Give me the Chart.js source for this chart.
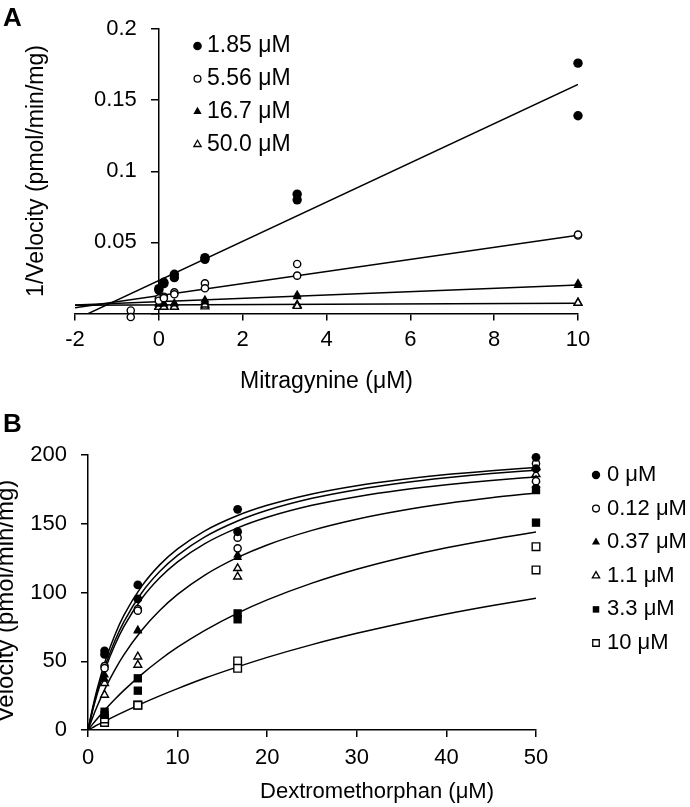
<!DOCTYPE html>
<html>
<head>
<meta charset="utf-8">
<script src="https://cdn.jsdelivr.net/npm/chart.js@4/dist/chart.umd.min.js"></script>
<style>
body { margin: 0; background: #fff; }
#wrap { position: relative; width: 690px; height: 807px; }
canvas { position: absolute; left: 0; }
#chartA { top: 0; }
#chartB { top: 395px; }
</style>
</head>
<body>
<div id="wrap">
<canvas id="chartA" width="690" height="395"></canvas>
<canvas id="chartB" width="690" height="412"></canvas>
</div>
<script>
// ---- panel A : 1/velocity vs mitragynine ----
const mitraConc = [0, 0, 0.12, 0.12, 0.37, 0.37, 1.1, 1.1, 3.3, 3.3, 10, 10];
const invV_185 = [0.0175, 0.0165, 0.021, 0.022, 0.0276, 0.0252, 0.0393, 0.0381, 0.0839, 0.0799, 0.176, 0.139];
const invV_556 = [0.0107, 0.009, 0.0118, 0.0108, 0.0149, 0.0135, 0.0212, 0.0177, 0.0348, 0.0266, 0.0548, 0.0555];
const invV_167 = [0.0065, 0.0072, 0.007, 0.0068, 0.0072, 0.0068, 0.0095, 0.0082, 0.013, 0.0118, 0.0212, 0.0198];
const invV_500 = [0.0048, 0.0045, 0.0048, 0.0046, 0.0048, 0.0046, 0.0048, 0.0062, 0.006, 0.0052, 0.0076, 0.0074];
const strayX = [-0.67, -0.67];
const strayY = [0.0021, -0.0025];
const fitX = [-2, 10];
const fit_185 = [-0.0044, 0.161];
const fit_556 = [0.004, 0.055];
const fit_167 = [0.0059, 0.0201];
const fit_500 = [0.0058, 0.0072];
const labelsA = ['1.85 μM', '5.56 μM', '16.7 μM', '50.0 μM'];

// ---- panel B : velocity vs dextromethorphan ----
const dexConc = [1.85, 1.85, 5.56, 5.56, 16.7, 16.7, 50, 50];
const v_0 = [57.5, 55, 105.5, 95.3, 160.5, 144.2, 198.3, 190];
const v_012 = [46.5, 45, 88, 86.8, 139.9, 132.1, 193.9, 181];
const v_037 = [40, 37, 72.7, 72, 127.3, 125.5, 182, 178];
const v_11 = [25.5, 34, 53.3, 47.3, 117.6, 111.5, 191, 186];
const v_33 = [13.3, 11, 37.6, 28.6, 84.8, 80.5, 174.5, 150.8];
const v_10 = [5.5, 8, 18.2, 18, 50.2, 44.9, 133.3, 116.4];
const curveX = [0, 0.5, 1, 2, 3, 4, 6, 8, 10, 13, 16.7, 20, 25, 30, 35, 40, 45, 50];
const curve_0 = [0, 15.7, 29.3, 51.6, 69.1, 83.3, 104.6, 120.1, 131.7, 144.7, 156.0, 163.4, 171.7, 177.7, 182.2, 185.8, 188.6, 191.0];
const curve_012 = [0, 14.5, 27.1, 48.1, 64.9, 78.7, 99.8, 115.2, 127.0, 140.3, 152.0, 159.8, 168.5, 174.8, 179.6, 183.4, 186.5, 189.0];
const curve_037 = [0, 13.6, 25.6, 45.7, 61.8, 75.1, 95.6, 110.7, 122.3, 135.4, 147.0, 154.7, 163.4, 169.7, 174.6, 178.4, 181.5, 184.0];
const curve_11 = [0, 8.8, 16.9, 31.4, 43.8, 54.7, 72.6, 86.9, 98.6, 112.5, 125.5, 134.6, 145.2, 153.3, 159.6, 164.7, 168.9, 172.4];
const curve_33 = [0, 4.1, 8.0, 15.4, 22.3, 28.8, 40.5, 50.9, 60.2, 72.3, 85.0, 94.6, 106.8, 116.9, 125.3, 132.5, 138.6, 144.0];
const curve_10 = [0, 1.7, 3.5, 6.8, 10.1, 13.2, 19.2, 24.8, 30.1, 37.6, 45.9, 52.8, 62.1, 70.3, 77.7, 84.4, 90.4, 95.9];
const labelsB = ['0 μM', '0.12 μM', '0.37 μM', '1.1 μM', '3.3 μM', '10 μM'];

const FONT = '"Liberation Sans", Arial, sans-serif';
const pts = (xs, ys) => xs.map((x, i) => ({ x: x, y: ys[i] }));

// marker looks (style only)
const stylesA = [
  { shape: 'circle', filled: true, r: 4.7, lr: 4.3 },
  { shape: 'circle', filled: false, r: 3.6, lr: 3.4 },
  { shape: 'triangle', filled: true, r: 5.2, lr: 4.8 },
  { shape: 'triangle', filled: false, r: 4.5, lr: 4.2 }
];
const stylesB = [
  { shape: 'circle', filled: true, r: 4.4, lr: 4.2 },
  { shape: 'circle', filled: false, r: 3.6, lr: 3.4 },
  { shape: 'triangle', filled: true, r: 5.2, lr: 4.7 },
  { shape: 'triangle', filled: false, r: 4.5, lr: 4.2 },
  { shape: 'rect', filled: true, r: 5.9, lr: 4.6 },
  { shape: 'rect', filled: false, r: 5.4, lr: 4.6 }
];

function pointSet(data, st) {
  return {
    type: 'scatter', data: data, order: 1, clip: false,
    pointStyle: st.shape, pointRadius: st.r, pointHoverRadius: st.r,
    pointBackgroundColor: st.filled ? '#000' : '#fff',
    pointBorderColor: '#000', pointBorderWidth: st.filled ? 0 : 1.4
  };
}
function lineSet(data) {
  return {
    type: 'line', data: data, order: 2, showLine: true,
    borderColor: '#000', borderWidth: 1.5, pointRadius: 0,
    cubicInterpolationMode: 'monotone', fill: false
  };
}

function drawMarker(ctx, st, x, y, r) {
  ctx.beginPath();
  if (st.shape === 'circle') {
    ctx.arc(x, y, r, 0, Math.PI * 2);
  } else if (st.shape === 'triangle') {
    ctx.moveTo(x, y - r);
    ctx.lineTo(x + 0.866 * r, y + 0.5 * r);
    ctx.lineTo(x - 0.866 * r, y + 0.5 * r);
  } else {
    const s = r * Math.SQRT1_2;
    ctx.rect(x - s, y - s, 2 * s, 2 * s);
  }
  ctx.closePath();
  ctx.fillStyle = st.filled ? '#000' : '#fff';
  ctx.fill();
  if (!st.filled) {
    ctx.lineWidth = 1.3;
    ctx.strokeStyle = '#000';
    ctx.stroke();
  }
}

// panel letter, rotated y title, legend and a few labels Chart.js can't place
const overlay = {
  id: 'overlay',
  afterDraw(chart, args, o) {
    const ctx = chart.ctx;
    const area = chart.chartArea;
    ctx.save();
    ctx.fillStyle = '#000';
    ctx.font = 'bold 26px ' + FONT;
    ctx.textAlign = 'left';
    ctx.textBaseline = 'alphabetic';
    ctx.fillText(o.letter, o.letterX, o.letterY);

    ctx.save();
    ctx.translate(o.yTitleX, o.yTitleY);
    ctx.rotate(-Math.PI / 2);
    ctx.font = o.yTitleSize + 'px ' + FONT;
    ctx.textAlign = 'center';
    ctx.textBaseline = 'middle';
    ctx.fillText(o.yTitle, 0, 0);
    ctx.restore();

    ctx.font = o.fontSize + 'px ' + FONT;
    ctx.textBaseline = 'middle';
    if (o.xTitle) {
      ctx.textAlign = 'center';
      ctx.fillText(o.xTitle, o.xTitleX, o.xTitleY);
    }
    // y tick labels beside an axis that sits at x = 0
    if (o.yLabelGap) {
      const ys = chart.scales.y;
      const ax = chart.scales.x.getPixelForValue(0) - o.yLabelGap;
      ctx.font = '22px ' + FONT;
      ctx.textAlign = 'right';
      ys.ticks.forEach(t => {
        if (t.value !== 0) ctx.fillText(String(parseFloat(t.value.toFixed(2))), ax, ys.getPixelForValue(t.value));
      });
    }

    ctx.font = o.fontSize + 'px ' + FONT;
    ctx.textAlign = 'left';
    o.labels.forEach((txt, i) => {
      const y = o.legendY + i * o.legendDy;
      drawMarker(ctx, o.styles[i], o.markerX, y, o.styles[i].lr);
      ctx.fillStyle = '#000';
      ctx.fillText(txt, o.textX, y);
    });
    ctx.restore();
  }
};

const tickFont = { family: FONT, size: 22 };
const gridOpts = { drawOnChartArea: false, drawTicks: true, tickLength: 7, color: '#000', lineWidth: 1.5 };
const borderOpts = { color: '#000', width: 1.5 };

// ---------- chart A ----------
new Chart(document.getElementById('chartA'), {
  type: 'scatter',
  data: {
    datasets: [
      pointSet(pts(mitraConc, invV_185), stylesA[0]),
      pointSet(pts(mitraConc, invV_556).concat(pts(strayX, strayY)), stylesA[1]),
      pointSet(pts(mitraConc, invV_167), stylesA[2]),
      pointSet(pts(mitraConc, invV_500), stylesA[3]),
      lineSet(pts(fitX, fit_185)),
      lineSet(pts(fitX, fit_556)),
      lineSet(pts(fitX, fit_167)),
      lineSet(pts(fitX, fit_500))
    ]
  },
  options: {
    responsive: false,
    animation: false,
    layout: { padding: { left: 75, right: 112, top: 29, bottom: 0 } },
    plugins: {
      legend: { display: false },
      tooltip: { enabled: false },
      overlay: {
        letter: 'A', letterX: 3, letterY: 26, fontSize: 23,
        yTitle: '1/Velocity (pmol/min/mg)', yTitleX: 37, yTitleY: 171, yTitleSize: 23,
        yLabelGap: 22,
        labels: labelsA, styles: stylesA,
        markerX: 197.5, textX: 207, legendY: 46, legendDy: 32.8
      }
    },
    scales: {
      x: {
        type: 'linear', position: 'bottom', min: -2, max: 10,
        ticks: { stepSize: 2, padding: 6, color: '#000', font: tickFont },
        grid: gridOpts, border: borderOpts,
        title: { display: true, text: 'Mitragynine (μM)', color: '#000', font: { family: FONT, size: 23 }, padding: { top: 0, bottom: 0 } },
        afterFit: s => { s.height = 81.5; }
      },
      y: {
        type: 'linear', position: { x: 0 }, min: 0, max: 0.2,
        ticks: { stepSize: 0.05, display: false },
        grid: gridOpts, border: borderOpts
      }
    }
  },
  plugins: [overlay]
});

// ---------- chart B ----------
new Chart(document.getElementById('chartB'), {
  type: 'scatter',
  data: {
    datasets: [
      pointSet(pts(dexConc, v_0), stylesB[0]),
      pointSet(pts(dexConc, v_012), stylesB[1]),
      pointSet(pts(dexConc, v_037), stylesB[2]),
      pointSet(pts(dexConc, v_11), stylesB[3]),
      pointSet(pts(dexConc, v_33), stylesB[4]),
      pointSet(pts(dexConc, v_10), stylesB[5]),
      lineSet(pts(curveX, curve_0)),
      lineSet(pts(curveX, curve_012)),
      lineSet(pts(curveX, curve_037)),
      lineSet(pts(curveX, curve_11)),
      lineSet(pts(curveX, curve_33)),
      lineSet(pts(curveX, curve_10))
    ]
  },
  options: {
    responsive: false,
    animation: false,
    layout: { padding: { left: 0, right: 154, top: 60, bottom: 0 } },
    plugins: {
      legend: { display: false },
      tooltip: { enabled: false },
      overlay: {
        letter: 'B', letterX: 3, letterY: 37, fontSize: 22,
        yTitle: 'Velocity (pmol/min/mg)', yTitleX: 6, yTitleY: 206, yTitleSize: 24,
        xTitle: 'Dextromethorphan (μM)', xTitleX: 377, xTitleY: 397,
        labels: labelsB, styles: stylesB,
        markerX: 596, textX: 607, legendY: 80, legendDy: 33.6
      }
    },
    scales: {
      x: {
        type: 'linear', position: 'bottom', min: 0, max: 50,
        ticks: { stepSize: 10, padding: 8, color: '#000', font: tickFont },
        grid: gridOpts, border: borderOpts,
        afterFit: s => { s.height = 77; }
      },
      y: {
        type: 'linear', position: 'left', min: 0, max: 200,
        ticks: { stepSize: 50, padding: 14, color: '#000', font: tickFont },
        grid: gridOpts, border: borderOpts,
        afterFit: s => { s.width = 88; }
      }
    }
  },
  plugins: [overlay]
});
</script>
</body>
</html>
